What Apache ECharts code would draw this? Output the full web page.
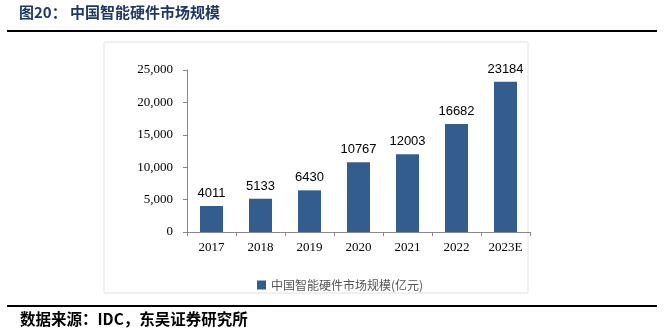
<!DOCTYPE html>
<html><head><meta charset="utf-8">
<script src="https://cdn.jsdelivr.net/npm/echarts@6/dist/echarts.min.js"></script>
<style>html,body{margin:0;padding:0;background:#fff}#c{width:664px;height:331px}</style>
</head><body><div id="c"></div>
<script>
const categories = ['2017','2018','2019','2020','2021','2022','2023E'];
const marketSize = [4011, 5133, 6430, 10767, 12003, 16682, 23184];
const seriesName = '中国智能硬件市场规模(亿元)';
const titleText = '图20： 中国智能硬件市场规模';
const sourceText = '数据来源：IDC，东吴证券研究所';

const chart = echarts.init(document.getElementById('c'));
chart.setOption({
  animation: false,
  backgroundColor: '#fff',
  graphic: [
    {type:'text', left: 19, top: 5, style:{text: titleText, font:'bold 15px "Noto Sans CJK SC"', fill:'#1f3864'}},
    {type:'line', shape:{x1:7,y1:31,x2:657,y2:31}, style:{stroke:'#000', lineWidth:2}},
    {type:'rect', shape:{x:104,y:42,width:424,height:251}, style:{fill:'none', stroke:'#e2e2e2', lineWidth:1}},
    {type:'line', shape:{x1:7,y1:306,x2:657,y2:306}, style:{stroke:'#000', lineWidth:2}},
    {type:'text', left: 20, top: 311, style:{text: sourceText, font:'bold 15.5px "Noto Sans CJK SC"', fill:'#000'}}
  ],
  legend: {
    data: [seriesName], left: 252, top: 274, itemWidth: 9, itemHeight: 9, icon: 'rect',
    textStyle: {fontFamily: '"Noto Sans CJK SC"', fontSize: 12, color: '#555'}, itemGap: 4
  },
  grid: {left: 187, right: 134, top: 70, bottom: 99, containLabel: false},
  xAxis: {
    type: 'category', data: categories,
    axisLine: {lineStyle: {color: '#888'}},
    axisTick: {show: true, alignWithLabel: false, length: 4, lineStyle: {color: '#888'}},
    axisLabel: {fontFamily: '"Liberation Serif"', fontSize: 13, color: '#000', margin: 9}
  },
  yAxis: {
    type: 'value', min: 0, max: 25000, interval: 5000,
    axisLine: {show: true, lineStyle: {color: '#888'}},
    axisTick: {show: true, inside: false, length: 4, lineStyle: {color: '#888'}},
    splitLine: {show: false},
    axisLabel: {fontFamily: '"Liberation Serif"', fontSize: 13, color: '#000', margin: 14,
      formatter: v => v.toLocaleString('en-US')}
  },
  series: [{
    name: seriesName, type: 'bar', data: marketSize, barWidth: 23,
    itemStyle: {color: '#345d8f'},
    label: {show: true, position: 'top', distance: 6, fontFamily: '"Liberation Sans"', fontSize: 13, color: '#000'}
  }]
});
</script></body></html>
